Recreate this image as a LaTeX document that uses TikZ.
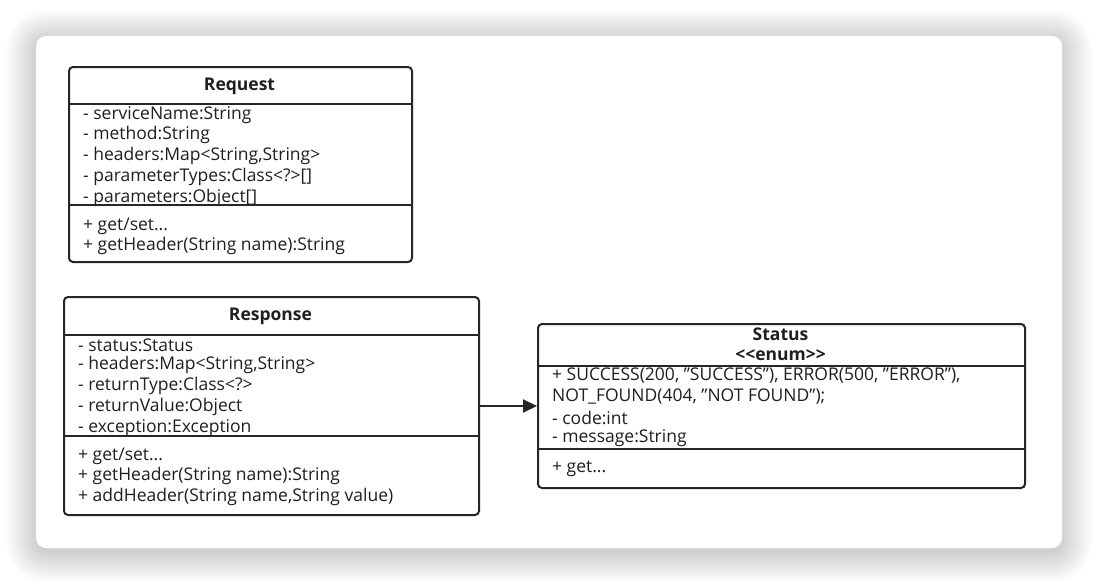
\documentclass[tikz,border=0pt]{standalone}
\usepackage{fontspec}
\setmainfont[Ligatures=NoCommon]{Open Sans}
\usetikzlibrary{arrows.meta}
\newcommand{\dq}{\symbol{34}}
\tikzset{
  umlbox/.style={draw=black!85, line width=2pt, rounded corners=4pt, fill=white, anchor=north west, inner sep=0pt},
  txt/.style={anchor=west, inner sep=0pt, font=\fontsize{17.5}{19}\selectfont, text=black!88},
  ttl/.style={anchor=center, inner sep=0pt, font=\fontsize{17.5}{19}\selectfont\bfseries, text=black!88},
  divider/.style={draw=black!85, line width=2pt},
  assoc/.style={draw=black!85, line width=2pt, -{Triangle[length=14pt,width=13pt]}}
}
\begin{document}
\begin{tikzpicture}[x=1pt,y=-1pt]
\useasboundingbox (0,0) rectangle (1098,584);
% shadow
\foreach \i in {30,28,...,0}{
  \fill[black, opacity=0.012, rounded corners=10pt+\i pt] (36-\i,36-\i+4) rectangle (1062+\i,548+\i+4);
}
\fill[white, rounded corners=10pt] (36,36) rectangle (1062,548);

% Request
\node[umlbox, minimum width=343pt, minimum height=195pt] (req) at (68,66) {};
\node[ttl] (reqt) at (239.5,86) {Request};
\draw[divider] (req.west |- 0,104) -- (req.east |- 0,104);
\node[txt] (r1) at (83,115) {- serviceName:String};
\node[txt] (r2) at (83,135) {- method:String};
\node[txt] (r3) at (83,156) {- headers:Map<String,String>};
\node[txt] (r4) at (83,177) {- parameterTypes:Class<?>[]};
\node[txt] (r5) at (83,198) {- parameters:Object[]};
\draw[divider] (req.west |- 0,205) -- (req.east |- 0,205);
\node[txt] (r6) at (83,226) {+ get/set...};
\node[txt] (r7) at (83,246) {+ getHeader(String name):String};

% Response
\node[umlbox, minimum width=415pt, minimum height=218pt] (resp) at (63,296) {};
\node[ttl] (respt) at (270.5,316) {Response};
\draw[divider] (resp.west |- 0,335) -- (resp.east |- 0,335);
\node[txt] (s1) at (78,345) {- status:Status};
\node[txt] (s2) at (78,365) {- headers:Map<String,String>};
\node[txt] (s3) at (78,386) {- returnType:Class<?>};
\node[txt] (s4) at (78,407) {- returnValue:Object};
\node[txt] (s5) at (78,428) {- exception:Exception};
\draw[divider] (resp.west |- 0,436) -- (resp.east |- 0,436);
\node[txt] (s6) at (78,456) {+ get/set...};
\node[txt] (s7) at (78,476) {+ getHeader(String name):String};
\node[txt] (s8) at (78,497) {+ addHeader(String name,String value)};

% Status
\node[umlbox, minimum width=487pt, minimum height=164pt] (stat) at (537,323) {};
\node[ttl] (statt) at (780.5,334) {Status};
\node[ttl] (state) at (780.5,355) {{<}{<}enum{>}{>}};
\draw[divider] (stat.west |- 0,366) -- (stat.east |- 0,366);
\node[txt] (t1) at (552,376) {+ SUCCESS(200, \dq SUCCESS\dq), ERROR(500, \dq ERROR\dq),};
\node[txt] (t2) at (552,397) {NOT\_FOUND(404, \dq NOT FOUND\dq);};
\node[txt] (t3) at (552,418) {- code:int};
\node[txt] (t4) at (552,438) {- message:String};
\draw[divider] (stat.west |- 0,449) -- (stat.east |- 0,449);
\node[txt] (t5) at (552,469) {+ get...};

\draw[assoc] (resp.east |- 0,406) -- (stat.west |- 0,406);
\end{tikzpicture}
\end{document}
